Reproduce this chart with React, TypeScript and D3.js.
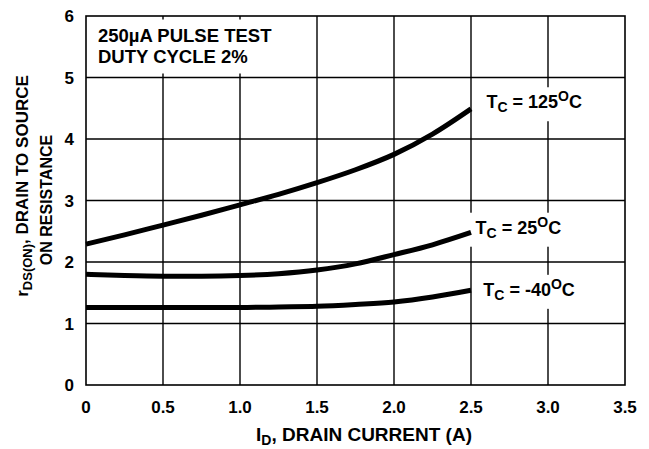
import * as d3 from 'd3'

const W = 649
const H = 449
const MARGIN = { top: 16, right: 24, bottom: 64, left: 86 }
const FONT = "'Liberation Sans', Arial, Helvetica, sans-serif"

// drain current (A) and r_DS(ON) for each case temperature
const CURRENT = [0, 0.25, 0.5, 0.75, 1.0, 1.25, 1.5, 1.75, 2.0, 2.25, 2.5]
const R_125 = [2.29, 2.44, 2.6, 2.76, 2.93, 3.1, 3.29, 3.5, 3.75, 4.08, 4.49]
const R_25 = [1.8, 1.78, 1.77, 1.77, 1.78, 1.81, 1.87, 1.97, 2.12, 2.28, 2.48]
const R_M40 = [1.26, 1.26, 1.26, 1.26, 1.26, 1.27, 1.28, 1.31, 1.35, 1.43, 1.54]
const TEMPS = ['125', '25', '-40']

const X_TICKS = [0, 0.5, 1.0, 1.5, 2.0, 2.5, 3.0, 3.5]
const X_TICK_LABELS = ['0', '0.5', '1.0', '1.5', '2.0', '2.5', '3.0', '3.5']
const Y_TICKS = [0, 1, 2, 3, 4, 5, 6]

// label anchors in data units (x, y of baseline start)
const LABEL_AT: [number, number][] = [
  [2.6, 4.5],
  [2.53, 2.46],
  [2.58, 1.45],
]

export default function App() {
  const x = d3.scaleLinear().domain([0, 3.5]).range([MARGIN.left, W - MARGIN.right])
  const y = d3.scaleLinear().domain([0, 6]).range([H - MARGIN.bottom, MARGIN.top])
  const x0 = x(0), x1 = x(3.5), y0 = y(0), y1 = y(6)

  const line = d3
    .line<[number, number]>()
    .x((d) => x(d[0]))
    .y((d) => y(d[1]))
    .curve(d3.curveMonotoneX)

  const series = [R_125, R_25, R_M40].map((vals) => CURRENT.map((c, i) => [c, vals[i]] as [number, number]))

  return (
    <svg width={W} height={H} style={{ position: 'absolute', left: 0, top: 0, background: '#fff' }} fontFamily={FONT} fontWeight="bold">
      <rect x={0} y={0} width={W} height={H} fill="#fff" />
      {/* grid */}
      {Y_TICKS.slice(1, -1).map((t) => (
        <line key={'h' + t} x1={x0} x2={x1} y1={y(t)} y2={y(t)} stroke="#000" strokeWidth={1.4} />
      ))}
      {X_TICKS.slice(1, -1).map((t) => (
        <line key={'v' + t} x1={x(t)} x2={x(t)} y1={y0} y2={y1} stroke="#000" strokeWidth={1.4} />
      ))}

      {/* white boxes behind annotations */}
      <rect x={x0 + 2} y={y(6) + 3.5} width={x(1.4) - x0} height={y(5) - y(6) - 7.5} fill="#fff" />
      {LABEL_AT.map(([lx, ly], i) => (
        <rect key={'c' + i} x={x(lx) - 6} y={y(ly) - 21} width={118} height={34} fill="#fff" />
      ))}

      {/* curves */}
      {series.map((s, i) => (
        <path key={'s' + i} d={line(s) ?? ''} fill="none" stroke="#000" strokeWidth={5} />
      ))}

      <rect x={x0} y={y1} width={x1 - x0} height={y0 - y1} fill="none" stroke="#000" strokeWidth={1.6} />

      {/* tick labels */}
      {X_TICKS.map((t, i) => (
        <text key={'xt' + t} x={x(t)} y={y0 + 28} textAnchor="middle" fontSize={17}>
          {X_TICK_LABELS[i]}
        </text>
      ))}
      {Y_TICKS.map((t) => (
        <text key={'yt' + t} x={x0 - 12} y={y(t) + 6} textAnchor="end" fontSize={17}>
          {t}
        </text>
      ))}

      {/* annotations */}
      <text x={x0 + 12} y={42} fontSize={18.5}>250µA PULSE TEST</text>
      <text x={x0 + 12} y={63} fontSize={18.5}>DUTY CYCLE 2%</text>

      {TEMPS.map((t, i) => (
        <text key={'l' + i} x={x(LABEL_AT[i][0])} y={y(LABEL_AT[i][1])} fontSize={18}>
          T<tspan dy={4} fontSize={14}>C</tspan>
          <tspan dy={-4}>{` = ${t}`}</tspan>
          <tspan dy={-7} fontSize={14}>O</tspan>
          <tspan dy={7}>C</tspan>
        </text>
      ))}

      {/* axis titles */}
      <text x={364} y={441} textAnchor="middle" fontSize={19}>
        I<tspan dy={4} fontSize={14}>D</tspan>
        <tspan dy={-4}>, DRAIN CURRENT (A)</tspan>
      </text>
      <text transform={`translate(28,186) rotate(-90)`} textAnchor="middle" fontSize={17}>
        r<tspan dy={4} fontSize={13}>DS(ON)</tspan>
        <tspan dy={-4}>, DRAIN TO SOURCE</tspan>
      </text>
      <text transform={`translate(52,200) rotate(-90)`} textAnchor="middle" fontSize={16}>
        ON RESISTANCE
      </text>
    </svg>
  )
}
